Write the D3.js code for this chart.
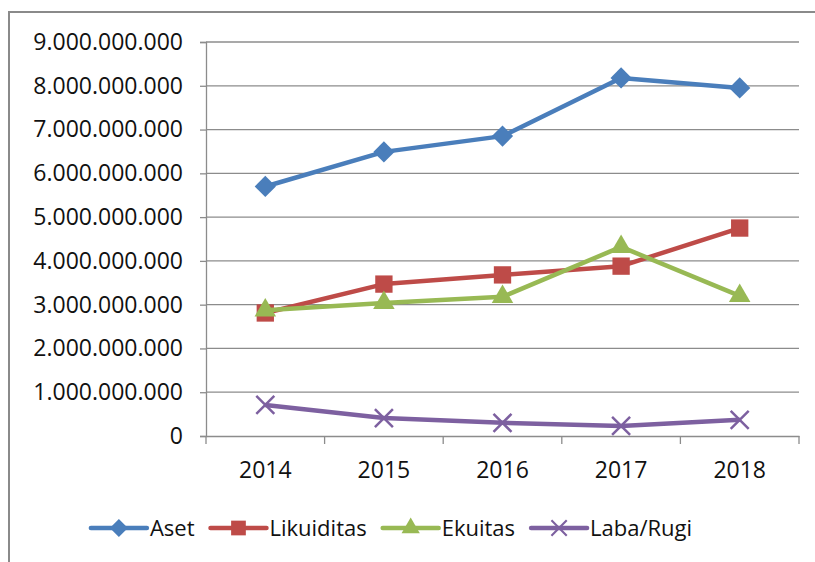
<!DOCTYPE html>
<html>
<head>
<meta charset="utf-8">
<script src="https://cdn.jsdelivr.net/npm/d3@7"></script>
<style>
  html, body { margin: 0; padding: 0; background: #fff; overflow: hidden; }
  svg { display: block; font-family: "Open Sans", "Liberation Sans", sans-serif; }
</style>
</head>
<body>
<svg id="chart" width="815" height="562"></svg>
<script>
const years = ['2014', '2015', '2016', '2017', '2018'];
const aset = [5700000000, 6490000000, 6850000000, 8180000000, 7950000000];
const likuiditas = [2810000000, 3470000000, 3680000000, 3880000000, 4750000000];
const ekuitas = [2870000000, 3040000000, 3180000000, 4320000000, 3200000000];
const labaRugi = [710000000, 410000000, 300000000, 230000000, 370000000];
const yTicks = [0, 1e9, 2e9, 3e9, 4e9, 5e9, 6e9, 7e9, 8e9, 9e9];

const series = [
  { name: 'Aset', values: aset, color: '#4A7EBB', marker: 'diamond' },
  { name: 'Likuiditas', values: likuiditas, color: '#BE4B48', marker: 'square' },
  { name: 'Ekuitas', values: ekuitas, color: '#98B954', marker: 'triangle' },
  { name: 'Laba/Rugi', values: labaRugi, color: '#7D60A0', marker: 'x' }
];

const svg = d3.select('#chart');

// outer chart border (right/bottom edges fall outside the picture)
svg.append('rect')
  .attr('x', 9).attr('y', 12)
  .attr('width', 830).attr('height', 580)
  .attr('fill', 'none')
  .attr('stroke', '#8a8a8a')
  .attr('stroke-width', 2);

const plotLeft = 206, plotRight = 799, plotTop = 42, plotBottom = 436;

const x = d3.scaleBand().domain(years).range([plotLeft, plotRight]).padding(0);
const y = d3.scaleLinear().domain([0, 9e9]).range([plotBottom, plotTop]);

const locale = d3.formatLocale({ decimal: ',', thousands: '.', grouping: [3], currency: ['', ''] });
const fmt = locale.format(',');

// gridlines
svg.append('g')
  .selectAll('line')
  .data(yTicks.filter(d => d > 0))
  .join('line')
  .attr('x1', plotLeft).attr('x2', plotRight)
  .attr('y1', d => y(d)).attr('y2', d => y(d))
  .attr('stroke', '#8c8c8c')
  .attr('stroke-width', 1.3);

// y axis
const yAxis = svg.append('g')
  .attr('transform', `translate(${plotLeft},0)`)
  .call(d3.axisLeft(y).tickValues(yTicks).tickFormat(fmt).tickSize(6).tickPadding(17));
yAxis.select('.domain').attr('stroke', '#8c8c8c').attr('stroke-width', 1.3);
yAxis.selectAll('.tick line').attr('stroke', '#8c8c8c').attr('stroke-width', 1.3);
yAxis.selectAll('.tick text')
  .attr('font-size', 23)
  .attr('font-family', '"Open Sans", sans-serif')
  .attr('fill', '#111');

// x axis
const xAxis = svg.append('g')
  .attr('transform', `translate(0,${plotBottom})`)
  .call(d3.axisBottom(x).tickSize(0).tickPadding(26));
xAxis.select('.domain').attr('stroke', '#8c8c8c').attr('stroke-width', 1.3);
xAxis.selectAll('.tick text')
  .attr('font-size', 23)
  .attr('font-family', '"Open Sans", sans-serif')
  .attr('fill', '#111');
xAxis.selectAll('.boundary')
  .data(years.map(d => x(d)).concat([x.range()[1]]))
  .join('line')
  .attr('class', 'boundary')
  .attr('x1', d => d).attr('x2', d => d)
  .attr('y1', 0).attr('y2', 8)
  .attr('stroke', '#8c8c8c')
  .attr('stroke-width', 1.3);

const cx = d => x(d) + x.bandwidth() / 2;

function drawMarker(g, type, color) {
  if (type === 'diamond') {
    g.append('path')
      .attr('d', d3.symbol(d3.symbolSquare, 225)())
      .attr('transform', 'rotate(45)')
      .attr('fill', color);
  } else if (type === 'square') {
    g.append('path')
      .attr('d', d3.symbol(d3.symbolSquare, 300)())
      .attr('fill', color);
  } else if (type === 'triangle') {
    g.append('path')
      .attr('d', d3.symbol(d3.symbolTriangle, 200)())
      .attr('fill', color);
  } else {
    g.append('path')
      .attr('d', 'M-9,-9L9,9M-9,9L9,-9')
      .attr('fill', 'none')
      .attr('stroke', color)
      .attr('stroke-width', 2.5);
  }
}

const line = d3.line().x(d => cx(d.year)).y(d => y(d.value));

series.forEach(s => {
  const pts = years.map((yr, i) => ({ year: yr, value: s.values[i] }));
  svg.append('path')
    .datum(pts)
    .attr('d', line)
    .attr('fill', 'none')
    .attr('stroke', s.color)
    .attr('stroke-width', 4.5)
    .attr('stroke-linejoin', 'round');
  pts.forEach(p => {
    const g = svg.append('g').attr('transform', `translate(${cx(p.year)},${y(p.value)})`);
    drawMarker(g, s.marker, s.color);
  });
});

// legend, laid out left to right then centred
const legendY = 528;
const legendGap = 16;
const legend = svg.append('g');
let cursor = 0;
series.forEach(s => {
  const g = legend.append('g').attr('transform', `translate(${cursor},${legendY})`);
  g.append('line')
    .attr('x1', 0).attr('x2', 56)
    .attr('y1', 0).attr('y2', 0)
    .attr('stroke', s.color)
    .attr('stroke-width', 4.5)
    .attr('stroke-linecap', 'round');
  const m = g.append('g').attr('transform', 'translate(28,0) scale(0.85)');
  drawMarker(m, s.marker, s.color);
  const t = g.append('text')
    .attr('x', 59)
    .attr('y', 8)
    .attr('font-size', 22)
    .attr('fill', '#111')
    .text(s.name);
  cursor += 59 + t.node().getComputedTextLength() + legendGap;
});
const legendWidth = cursor - legendGap;
legend.attr('transform', `translate(${391.5 - legendWidth / 2},0)`);
</script>
</body>
</html>
